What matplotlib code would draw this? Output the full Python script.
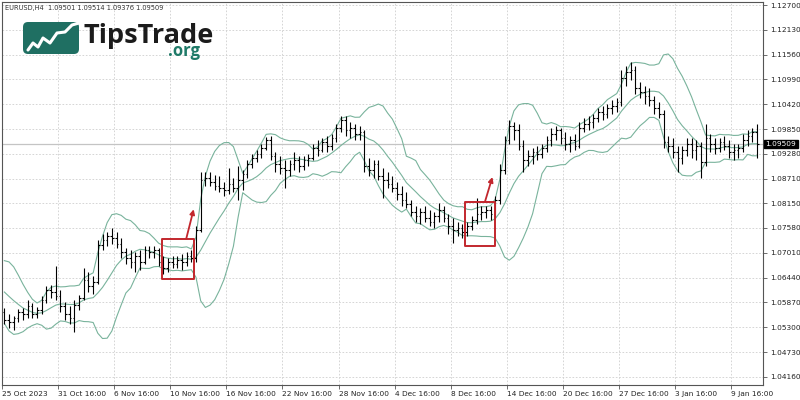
#!/usr/bin/env python3

""" EURUSD H4 bar chart with Bollinger Bands (MT4 style) """

import matplotlib
matplotlib.use("Agg")
import matplotlib.pyplot as plt
from matplotlib.patches import FancyBboxPatch, Rectangle
import matplotlib.transforms as mtransforms
import numpy as np
import pandas as pd

SYMBOL_TEXT = "EURUSD,H4  1.09501 1.09514 1.09376 1.09509"
LAST_PRICE = 1.09509
BB_PERIOD = 10      # each bar below stands for two H4 bars -> BB(20) on H4
BB_DEV = 2.0

price_ticks = [1.12700, 1.12130, 1.11560, 1.10990, 1.10420, 1.09850,
               1.09280, 1.08710, 1.08150, 1.07580, 1.07010, 1.06440,
               1.05870, 1.05300, 1.04730, 1.04160]

date_labels = ["25 Oct 2023", "31 Oct 16:00", "6 Nov 16:00", "10 Nov 16:00",
               "16 Nov 16:00", "22 Nov 16:00", "28 Nov 16:00", "4 Dec 16:00",
               "8 Dec 16:00", "14 Dec 16:00", "20 Dec 16:00", "27 Dec 16:00",
               "3 Jan 16:00", "9 Jan 16:00"]

# closes before the first visible bar (needed for the bands)
warmup_close = [1.0643, 1.0648, 1.0652, 1.0643, 1.0629, 1.0611, 1.0593,
                1.0579, 1.0565]

open_ = [
    1.0565, 1.0547, 1.0542, 1.0551, 1.0565, 1.0561, 1.0579, 1.0561, 1.0570, 1.0593,
    1.0616, 1.0611, 1.0602, 1.0579, 1.0561, 1.0551, 1.0581, 1.0597, 1.0639, 1.0625,
    1.0634, 1.0719, 1.0730, 1.0740, 1.0735, 1.0721, 1.0703, 1.0689, 1.0680, 1.0694,
    1.0680, 1.0707, 1.0703, 1.0707, 1.0680, 1.0666, 1.0680, 1.0676, 1.0685, 1.0680,
    1.0694, 1.0689, 1.0753, 1.0868, 1.0873, 1.0864, 1.0854, 1.0850, 1.0845, 1.0859,
    1.0850, 1.0868, 1.0882, 1.0905, 1.0919, 1.0928, 1.0942, 1.0960, 1.0923, 1.0905,
    1.0896, 1.0891, 1.0905, 1.0914, 1.0900, 1.0914, 1.0919, 1.0942, 1.0937, 1.0956,
    1.0946, 1.0965, 1.0988, 1.1006, 1.0983, 1.0988, 1.0974, 1.0979, 1.0900, 1.0891,
    1.0905, 1.0877, 1.0868, 1.0859, 1.0850, 1.0836, 1.0822, 1.0813, 1.0795, 1.0786,
    1.0795, 1.0781, 1.0772, 1.0786, 1.0799, 1.0781, 1.0763, 1.0753, 1.0758, 1.0749,
    1.0763, 1.0776, 1.0790, 1.0795, 1.0799, 1.0790, 1.0822, 1.0891, 1.0960, 1.0992,
    1.0983, 1.0946, 1.0914, 1.0923, 1.0933, 1.0928, 1.0942, 1.0960, 1.0974, 1.0983,
    1.0965, 1.0951, 1.0960, 1.0946, 1.0988, 1.0997, 1.1001, 1.1011, 1.1024, 1.1020,
    1.1034, 1.1038, 1.1047, 1.1102, 1.1116, 1.1121, 1.1079, 1.1070, 1.1061, 1.1052,
    1.1034, 1.1020, 1.0956, 1.0946, 1.0933, 1.0919, 1.0937, 1.0951, 1.0937, 1.0946,
    1.0910, 1.0965, 1.0951, 1.0942, 1.0956, 1.0946, 1.0933, 1.0937, 1.0942, 1.0960,
    1.0969, 1.0979]

high = [
    1.0574, 1.0561, 1.0556, 1.0572, 1.0574, 1.0593, 1.0586, 1.0577, 1.0602, 1.0625,
    1.0627, 1.0671, 1.0616, 1.0588, 1.0579, 1.0593, 1.0604, 1.0666, 1.0657, 1.0648,
    1.0730, 1.0744, 1.0749, 1.0758, 1.0749, 1.0735, 1.0712, 1.0707, 1.0703, 1.0707,
    1.0717, 1.0717, 1.0717, 1.0712, 1.0694, 1.0689, 1.0694, 1.0694, 1.0698, 1.0703,
    1.0707, 1.0763, 1.0887, 1.0887, 1.0887, 1.0880, 1.0877, 1.0864, 1.0896, 1.0873,
    1.0900, 1.0891, 1.0914, 1.0928, 1.0937, 1.0951, 1.0967, 1.0969, 1.0933, 1.0923,
    1.0914, 1.0914, 1.0933, 1.0923, 1.0923, 1.0928, 1.0951, 1.0960, 1.0965, 1.0969,
    1.0974, 1.0997, 1.1015, 1.1015, 1.1001, 1.0997, 1.0992, 1.0983, 1.0919, 1.0914,
    1.0914, 1.0896, 1.0887, 1.0877, 1.0864, 1.0854, 1.0841, 1.0822, 1.0809, 1.0804,
    1.0809, 1.0799, 1.0795, 1.0815, 1.0809, 1.0790, 1.0781, 1.0772, 1.0767, 1.0772,
    1.0786, 1.0827, 1.0809, 1.0809, 1.0809, 1.0831, 1.0905, 1.0969, 1.1006, 1.1001,
    1.0997, 1.0960, 1.0937, 1.0942, 1.0946, 1.0951, 1.0969, 1.0988, 1.0992, 1.0988,
    1.0979, 1.0969, 1.0974, 1.1001, 1.1011, 1.1015, 1.1020, 1.1034, 1.1038, 1.1043,
    1.1052, 1.1057, 1.1121, 1.1130, 1.1139, 1.1130, 1.1093, 1.1084, 1.1079, 1.1061,
    1.1047, 1.1029, 1.0969, 1.0965, 1.0946, 1.0946, 1.0965, 1.0965, 1.0960, 1.0956,
    1.0997, 1.0974, 1.0965, 1.0965, 1.0969, 1.0960, 1.0951, 1.0951, 1.0974, 1.0983,
    1.0988, 1.0997]

low = [
    1.0537, 1.0528, 1.0524, 1.0542, 1.0547, 1.0551, 1.0551, 1.0551, 1.0561, 1.0586,
    1.0597, 1.0593, 1.0565, 1.0547, 1.0537, 1.0519, 1.0570, 1.0593, 1.0611, 1.0607,
    1.0629, 1.0707, 1.0717, 1.0721, 1.0712, 1.0689, 1.0676, 1.0666, 1.0657, 1.0662,
    1.0676, 1.0689, 1.0689, 1.0671, 1.0652, 1.0657, 1.0666, 1.0666, 1.0662, 1.0671,
    1.0680, 1.0680, 1.0749, 1.0854, 1.0854, 1.0845, 1.0841, 1.0831, 1.0836, 1.0841,
    1.0822, 1.0845, 1.0873, 1.0896, 1.0910, 1.0919, 1.0937, 1.0914, 1.0887, 1.0882,
    1.0850, 1.0877, 1.0891, 1.0887, 1.0891, 1.0900, 1.0914, 1.0923, 1.0933, 1.0933,
    1.0937, 1.0956, 1.0979, 1.0969, 1.0965, 1.0960, 1.0960, 1.0887, 1.0877, 1.0873,
    1.0868, 1.0827, 1.0850, 1.0841, 1.0822, 1.0809, 1.0804, 1.0786, 1.0772, 1.0767,
    1.0772, 1.0763, 1.0758, 1.0772, 1.0772, 1.0744, 1.0724, 1.0740, 1.0735, 1.0740,
    1.0753, 1.0767, 1.0776, 1.0781, 1.0776, 1.0781, 1.0813, 1.0882, 1.0951, 1.0960,
    1.0937, 1.0887, 1.0900, 1.0905, 1.0914, 1.0919, 1.0933, 1.0946, 1.0960, 1.0951,
    1.0937, 1.0933, 1.0937, 1.0942, 1.0979, 1.0983, 1.0988, 1.1001, 1.1006, 1.1011,
    1.1020, 1.1024, 1.1038, 1.1084, 1.1098, 1.1066, 1.1057, 1.1043, 1.1038, 1.1020,
    1.1011, 1.0942, 1.0933, 1.0919, 1.0887, 1.0905, 1.0923, 1.0919, 1.0914, 1.0873,
    1.0900, 1.0933, 1.0928, 1.0933, 1.0937, 1.0919, 1.0914, 1.0919, 1.0933, 1.0946,
    1.0956, 1.0919]

close = [
    1.0547, 1.0542, 1.0551, 1.0565, 1.0561, 1.0579, 1.0561, 1.0570, 1.0593, 1.0616,
    1.0611, 1.0602, 1.0579, 1.0561, 1.0551, 1.0581, 1.0597, 1.0639, 1.0625, 1.0634,
    1.0719, 1.0730, 1.0740, 1.0735, 1.0721, 1.0703, 1.0689, 1.0680, 1.0694, 1.0680,
    1.0707, 1.0703, 1.0707, 1.0680, 1.0666, 1.0680, 1.0676, 1.0685, 1.0680, 1.0694,
    1.0689, 1.0753, 1.0868, 1.0873, 1.0864, 1.0854, 1.0850, 1.0845, 1.0859, 1.0850,
    1.0868, 1.0882, 1.0905, 1.0919, 1.0928, 1.0942, 1.0960, 1.0923, 1.0905, 1.0896,
    1.0891, 1.0905, 1.0914, 1.0900, 1.0914, 1.0919, 1.0942, 1.0937, 1.0956, 1.0946,
    1.0965, 1.0988, 1.1006, 1.0983, 1.0988, 1.0974, 1.0979, 1.0900, 1.0891, 1.0905,
    1.0877, 1.0868, 1.0859, 1.0850, 1.0836, 1.0822, 1.0813, 1.0795, 1.0786, 1.0795,
    1.0781, 1.0772, 1.0786, 1.0799, 1.0781, 1.0763, 1.0753, 1.0758, 1.0749, 1.0763,
    1.0776, 1.0790, 1.0795, 1.0799, 1.0790, 1.0822, 1.0891, 1.0960, 1.0992, 1.0983,
    1.0946, 1.0914, 1.0923, 1.0933, 1.0928, 1.0942, 1.0960, 1.0974, 1.0983, 1.0965,
    1.0951, 1.0960, 1.0946, 1.0988, 1.0997, 1.1001, 1.1011, 1.1024, 1.1020, 1.1034,
    1.1038, 1.1047, 1.1102, 1.1116, 1.1121, 1.1079, 1.1070, 1.1061, 1.1052, 1.1034,
    1.1020, 1.0956, 1.0946, 1.0933, 1.0919, 1.0937, 1.0951, 1.0937, 1.0946, 1.0910,
    1.0965, 1.0951, 1.0942, 1.0956, 1.0946, 1.0933, 1.0937, 1.0942, 1.0960, 1.0969,
    1.0979, 1.0951]

# the two consolidation boxes (bar index range, price range) and arrows
signal_boxes = [(33.7, 40.6, 1.0641, 1.0733), (98.5, 105.0, 1.0717, 1.0818)]
signal_arrows = [((38.9, 1.0733), (40.5, 1.0801)),
                 ((102.8, 1.0818), (104.4, 1.0875))]

n_bars = len(close)
x = np.arange(n_bars)

# Bollinger Bands (population std like MT4)
all_close = pd.Series(warmup_close + close)
mid = all_close.rolling(BB_PERIOD).mean()
std = all_close.rolling(BB_PERIOD).std(ddof=0)
bb_mid = mid.values[-n_bars:]
bb_up = (mid + BB_DEV * std).values[-n_bars:]
bb_dn = (mid - BB_DEV * std).values[-n_bars:]

fig = plt.figure(figsize=(8, 4), dpi=100)
ax = fig.add_axes([2 / 800, 15 / 400, 761 / 800, 383 / 400])
ax.set_facecolor("white")

# grid
ax.set_xlim(-0.5, -0.5 + 761 / 4.675)
ax.set_ylim(1.03975, 1.12769)
tick_pos = [-0.5 + 12 * k for k in range(len(date_labels))]
ax.set_xticks(tick_pos)
ax.set_xticklabels(date_labels)
for lab in ax.get_xticklabels():
    lab.set_horizontalalignment("left")
ax.set_yticks(price_ticks)
ax.set_yticklabels([f"{p:.5f}" for p in price_ticks])
ax.yaxis.tick_right()
ax.grid(True, color="#cfcfcf", linestyle=(0, (2, 2)), linewidth=0.6)
ax.set_axisbelow(True)

# current price line
ax.axhline(LAST_PRICE, color="#c4c4c4", linewidth=0.9, zorder=1)

# bands
band_color = "#79b39c"
ax.plot(x, bb_up, color=band_color, linewidth=0.8, zorder=2)
ax.plot(x, bb_mid, color=band_color, linewidth=0.8, zorder=2)
ax.plot(x, bb_dn, color=band_color, linewidth=0.8, zorder=2)

# OHLC bars
tick_w = 0.36
ax.vlines(x, low, high, color="black", linewidth=0.8, zorder=3)
ax.hlines(open_, x - tick_w, x, color="black", linewidth=0.8, zorder=3)
ax.hlines(close, x, x + tick_w, color="black", linewidth=0.8, zorder=3)

# red boxes and arrows
red = "#c2272d"
for x0, x1, y0, y1 in signal_boxes:
    ax.add_patch(Rectangle((x0, y0), x1 - x0, y1 - y0, fill=False,
                           edgecolor=red, linewidth=1.4, joinstyle="round",
                           zorder=4))
for start, end in signal_arrows:
    ax.annotate("", xy=end, xytext=start,
                arrowprops=dict(arrowstyle="-|>", color=red, lw=1.3,
                                mutation_scale=7, shrinkA=0, shrinkB=0),
                zorder=4)

# axes look
for side in ["left", "right", "bottom", "top"]:
    ax.spines[side].set_color("#555555")
    ax.spines[side].set_linewidth(0.8)
ax.tick_params(axis="both", direction="out", length=3, width=0.6,
               color="#555555", labelsize=5.3, labelcolor="#222222")
ax.tick_params(axis="y", pad=2)
ax.tick_params(axis="x", pad=1.5)

# last price label on the price scale
trans = mtransforms.blended_transform_factory(ax.transAxes, ax.transData)
ax.text(1.003, LAST_PRICE, f"{LAST_PRICE:.5f}", transform=trans,
        color="white", fontsize=5.3, ha="left", va="center",
        bbox=dict(boxstyle="square,pad=0.2", facecolor="black",
                  edgecolor="black"), zorder=6, clip_on=False)

# symbol line
fig.text(5 / 800, 1 - 8 / 400, SYMBOL_TEXT, fontsize=4.8, color="#333333",
         va="center", ha="left")

# TipsTrade logo
logo_ax = fig.add_axes([22 / 800, 1 - 55 / 400, 58 / 800, 34 / 400])
logo_ax.set_xlim(0, 58)
logo_ax.set_ylim(0, 34)
logo_ax.axis("off")
logo_ax.add_patch(FancyBboxPatch((1, 1), 56, 32,
                                 boxstyle="round,pad=0,rounding_size=5",
                                 facecolor="#1f6f62", edgecolor="none"))
logo_ax.plot([6, 11, 16, 21, 28, 35, 43, 50, 57],
             [5, 12, 8, 17, 12, 22, 23, 30, 32],
             color="white", linewidth=2.2, solid_capstyle="round",
             solid_joinstyle="round")

fig.text(84 / 800, 1 - 43 / 400, "TipsTrade", fontfamily="Open Sans",
         fontweight="bold", fontsize=19.5, color="#1b1b1b",
         ha="left", va="baseline")
fig.text(168 / 800, 1 - 55.5 / 400, ".org", fontfamily="Open Sans",
         fontweight="bold", fontsize=12, color="#1f7a68",
         ha="left", va="baseline")

fig.savefig("out.png", dpi=100)
